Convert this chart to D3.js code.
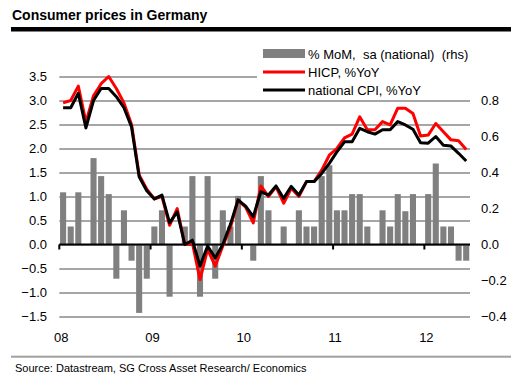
<!DOCTYPE html>
<html>
<head>
<meta charset="utf-8">
<script src="https://cdn.jsdelivr.net/npm/d3@7"></script>
<style>
  body { margin: 0; background: #fff; }
  svg text { font-family: "Liberation Sans", Arial, sans-serif; }
</style>
</head>
<body>
<div id="chart"></div>
<script>
// months on the category axis (Jan 2008 - Jun 2012)
var months = [
  "2008-01","2008-02","2008-03","2008-04","2008-05","2008-06","2008-07","2008-08","2008-09","2008-10","2008-11","2008-12",
  "2009-01","2009-02","2009-03","2009-04","2009-05","2009-06","2009-07","2009-08","2009-09","2009-10","2009-11","2009-12",
  "2010-01","2010-02","2010-03","2010-04","2010-05","2010-06","2010-07","2010-08","2010-09","2010-10","2010-11","2010-12",
  "2011-01","2011-02","2011-03","2011-04","2011-05","2011-06","2011-07","2011-08","2011-09","2011-10","2011-11","2011-12",
  "2012-01","2012-02","2012-03","2012-04","2012-05","2012-06"
];

// HICP, %YoY (lhs)
var hicp = [
  2.95, 3.0, 3.3, 2.55, 3.1, 3.35, 3.5, 3.25, 2.95, 2.5, 1.45, 1.15,
  0.95, 1.0, 0.4, 0.75, 0.0, 0.03, -0.73, -0.1, -0.45, -0.03, 0.35, 0.92,
  0.78, 0.45, 1.22, 1.0, 1.2, 0.86, 1.17, 1.0, 1.31, 1.31, 1.55, 1.86,
  2.0, 2.22, 2.3, 2.66, 2.39, 2.39, 2.56, 2.49, 2.84, 2.84, 2.73, 2.26,
  2.28, 2.52, 2.35, 2.18, 2.16, 1.98
];

// national CPI, %YoY (lhs)
var cpi = [
  2.85, 2.85, 3.15, 2.43, 3.0, 3.25, 3.25, 3.08, 2.85, 2.45, 1.41, 1.12,
  0.95, 1.03, 0.45, 0.68, 0.0, 0.09, -0.45, -0.03, -0.28, 0.0, 0.42, 0.93,
  0.8, 0.58, 1.1, 1.03, 1.22, 0.96, 1.21, 1.03, 1.31, 1.31, 1.48, 1.69,
  1.93, 2.14, 2.14, 2.42, 2.35, 2.3, 2.39, 2.39, 2.56, 2.49, 2.4, 2.12,
  2.11, 2.25, 2.07, 2.05, 1.9, 1.74
];

// % MoM, sa (national) (rhs)
var mom = [
  0.29, 0.10, 0.29, 0, 0.48, 0.38, 0.28, -0.19, 0.19, -0.09, -0.38, -0.19,
  0.10, 0.19, -0.29, 0, 0.10, 0.38, -0.29, 0.38, -0.19, 0.19, 0.10, 0.27,
  0, -0.09, 0.38, 0.19, 0, 0.10, 0, 0.19, 0.10, 0.10, 0.38, 0.44,
  0.19, 0.19, 0.28, 0.28, 0.10, 0, 0.19, 0.10, 0.28, 0.185, 0.28, 0,
  0.28, 0.45, 0.10, 0.10, -0.09, -0.09
];

var leftTicks = [-1.5, -1.0, -0.5, 0.0, 0.5, 1.0, 1.5, 2.0, 2.5, 3.0, 3.5];
var rightTicks = [-0.4, -0.2, 0.0, 0.2, 0.4, 0.6, 0.8];
var yearTicks = ["2008-01", "2009-01", "2010-01", "2011-01", "2012-01"];
var yearLabels = ["08", "09", "10", "11", "12"];

var width = 530, height = 390;
var plotLeft = 59.3, plotRight = 470, plotTop = 76.5, plotBottom = 316.5;

var svg = d3.select("#chart")
  .append("svg")
  .attr("width", width)
  .attr("height", height);

// title + rules
svg.append("text")
  .attr("x", 12)
  .attr("y", 20)
  .attr("font-size", 14)
  .attr("font-weight", "bold")
  .text("Consumer prices in Germany");

svg.append("rect")
  .attr("x", 11).attr("y", 27)
  .attr("width", 500).attr("height", 4.5)
  .attr("fill", "#000");

svg.append("rect")
  .attr("x", 11).attr("y", 355.7)
  .attr("width", 500).attr("height", 2)
  .attr("fill", "#a0a0a0");

svg.append("text")
  .attr("x", 15)
  .attr("y", 372)
  .attr("font-size", 11)
  .text("Source: Datastream, SG Cross Asset Research/ Economics");

// scales
var x = d3.scaleBand()
  .domain(months)
  .range([plotLeft, plotRight])
  .paddingInner(0.2)
  .paddingOuter(0.1);

var yL = d3.scaleLinear().domain([-1.5, 3.5]).range([plotBottom, plotTop]);
// right axis: 0 and 0.8 line up with 0.0 and 3.0 on the left
var yR = d3.scaleLinear().domain([0, 0.8]).range([yL(0), yL(3.0)]);

// left edge of a month's band (for year tick marks)
function edge(m) { return x(m) - x.step() * x.paddingInner() / 2; }

// gridlines
svg.append("g")
  .attr("transform", "translate(" + plotLeft + ",0)")
  .call(d3.axisLeft(yL).tickValues(leftTicks).tickSize(-(plotRight - plotLeft)).tickFormat(""))
  .call(function (g) {
    g.select(".domain").remove();
    g.selectAll(".tick line").attr("stroke", "#a6a6a6").attr("stroke-width", 2);
  });

// bars (rhs)
svg.append("g")
  .selectAll("rect")
  .data(mom)
  .join("rect")
  .attr("x", function (d, i) { return x(months[i]); })
  .attr("width", x.bandwidth())
  .attr("y", function (d) { return yR(Math.max(0, d)); })
  .attr("height", function (d) { return Math.abs(yR(d) - yR(0)); })
  .attr("fill", "#808080");

// zero line with year ticks
svg.append("line")
  .attr("x1", plotLeft).attr("x2", plotRight)
  .attr("y1", yL(0)).attr("y2", yL(0))
  .attr("stroke", "#000").attr("stroke-width", 2);

svg.append("g")
  .selectAll("line")
  .data(yearTicks)
  .join("line")
  .attr("x1", function (d) { return edge(d); })
  .attr("x2", function (d) { return edge(d); })
  .attr("y1", yL(0))
  .attr("y2", yL(0) + 5)
  .attr("stroke", "#000")
  .attr("stroke-width", 2);

// lines (lhs)
var line = d3.line()
  .x(function (d, i) { return x(months[i]) + x.bandwidth() / 2; })
  .y(function (d) { return yL(d); });

svg.append("path")
  .datum(hicp)
  .attr("fill", "none")
  .attr("stroke", "#ff0000")
  .attr("stroke-width", 3)
  .attr("stroke-linejoin", "round")
  .attr("d", line);

svg.append("path")
  .datum(cpi)
  .attr("fill", "none")
  .attr("stroke", "#000")
  .attr("stroke-width", 3)
  .attr("stroke-linejoin", "round")
  .attr("d", line);

// left axis labels
svg.append("g")
  .attr("transform", "translate(47,0)")
  .call(d3.axisLeft(yL).tickValues(leftTicks).tickSize(0).tickPadding(0).tickFormat(d3.format(".1f")))
  .call(function (g) {
    g.select(".domain").remove();
    g.selectAll("text").attr("font-size", 13).attr("font-family", null).attr("fill", "#000");
  });

// right axis labels
svg.append("g")
  .attr("transform", "translate(481,0)")
  .call(d3.axisRight(yR).tickValues(rightTicks).tickSize(0).tickPadding(0).tickFormat(d3.format(".1f")))
  .call(function (g) {
    g.select(".domain").remove();
    g.selectAll("text").attr("font-size", 13).attr("font-family", null).attr("fill", "#000");
  });

// year labels
svg.append("g")
  .selectAll("text")
  .data(yearTicks)
  .join("text")
  .attr("x", function (d) { return edge(d) + 2; })
  .attr("y", 342)
  .attr("text-anchor", "middle")
  .attr("font-size", 13)
  .text(function (d, i) { return yearLabels[i]; });

// legend
var legend = svg.append("g");
legend.append("rect")
  .attr("x", 257).attr("y", 40)
  .attr("width", 220).attr("height", 59.5)
  .attr("fill", "#fff");

legend.append("rect")
  .attr("x", 263).attr("y", 49)
  .attr("width", 42).attr("height", 9)
  .attr("fill", "#808080");

legend.append("line")
  .attr("x1", 263).attr("x2", 305)
  .attr("y1", 72).attr("y2", 72)
  .attr("stroke", "#ff0000").attr("stroke-width", 3);

legend.append("line")
  .attr("x1", 263).attr("x2", 305)
  .attr("y1", 90).attr("y2", 90)
  .attr("stroke", "#000").attr("stroke-width", 3);

var legendText = ["% MoM,  sa (national)  (rhs)", "HICP, %YoY", "national CPI, %YoY"];
legend.selectAll("text.item")
  .data(legendText)
  .join("text")
  .attr("class", "item")
  .attr("x", 308)
  .attr("y", function (d, i) { return 58.5 + i * 18; })
  .attr("font-size", 13)
  .style("white-space", "pre")
  .text(function (d) { return d; });
</script>
</body>
</html>
